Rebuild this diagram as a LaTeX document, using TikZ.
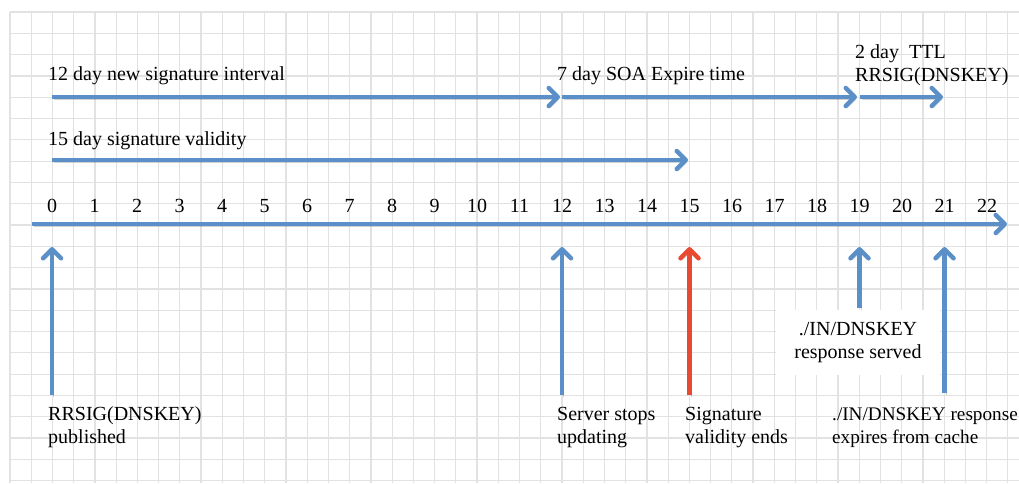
\documentclass[tikz,border=0pt]{standalone}
\usepackage{fontspec}
\setmainfont{Liberation Serif}
\usetikzlibrary{arrows.meta,calc}
\definecolor{ablue}{RGB}{91,143,199}
\definecolor{ared}{RGB}{232,73,48}
\definecolor{gridc}{RGB}{226,226,226}
\tikzset{
  txt/.style={font=\fontsize{20}{23}\selectfont, inner sep=0pt, align=left},
  num/.style={font=\fontsize{20}{23}\selectfont, inner sep=0pt, anchor=base},
  shadowed/.style={preaction={draw=black, opacity=0.18, transform canvas={shift={(1.5pt,-2pt)}}}},
  arr/.style={draw=ablue, line width=4.5pt, line join=round,
    -{Straight Barb[length=9pt,width=18pt,line cap=round,line join=round]}, shadowed},
  redarr/.style={arr, draw=ared},
  gridline/.style={draw=gridc, line width=1.2pt},
}
\begin{document}
\begin{tikzpicture}[x=1pt,y=-1pt]
  \fill[white] (0,0) rectangle (1019,483);
  \useasboundingbox (0,0) rectangle (1019,483);
  % grid
  \foreach \k in {0,...,47} {\draw[gridline] ({10+21.23*\k},12) -- ({10+21.23*\k},483);}
  \foreach \k in {0,...,22} {\draw[gridline] (10,{12+21.3*\k}) -- (1019,{12+21.3*\k});}

  % axis
  \coordinate (axL) at (32,224);
  \coordinate (axR) at (1007,224);
  \draw[arr] (axL) -- (axR);
  \foreach \i in {0,...,22} {\node[num] (n\i) at ({52+42.5*\i},212) {\i};}

  % top labels and arrows (base anchor = baseline of last line)
  \node[txt, anchor=base west] (l12) at (48,80) {12 day new signature interval};
  \node[txt, anchor=base west] (l7) at (557,80) {7 day SOA Expire time};
  \node[txt, anchor=base west] (l2) at (855,81) {2 day\ \ TTL\\RRSIG(DNSKEY)};
  \node[txt, anchor=base west] (l15) at (48,145) {15 day signature validity};

  \coordinate (a1s) at (52,97);  \coordinate (a1e) at (560,97);
  \coordinate (a2s) at (562,97); \coordinate (a2e) at (857,97);
  \coordinate (a3s) at (860,97); \coordinate (a3e) at (943,97);
  \coordinate (a4s) at (52,160); \coordinate (a4e) at (688,160);
  \draw[arr] (a1s) -- (a1e);
  \draw[arr] (a2s) -- (a2e);
  \draw[arr] (a3s) -- (a3e);
  \draw[arr] (a4s) -- (a4e);

  % bottom labels
  \node[txt, anchor=base west] (b0) at (48,443) {RRSIG(DNSKEY)\\published};
  \node[txt, anchor=base west] (b12) at (557,443) {Server stops\\updating};
  \node[txt, anchor=base west] (b15) at (685,443) {Signature\\validity ends};
  \node[txt, anchor=base west, font=\fontsize{19.2}{23}\selectfont] (b21) at (832,443) {./IN/DNSKEY response\\expires from cache};
  \node[txt, align=center, fill=white, minimum width=164pt, minimum height=65pt] (srv) at (858,342) {./IN/DNSKEY\\response served};

  % up arrows
  \coordinate (u0s) at (52,395);   \coordinate (u0e) at (52,247);
  \coordinate (u12s) at (562,395); \coordinate (u12e) at (562,247);
  \coordinate (u15s) at (689.5,395); \coordinate (u15e) at (689.5,247);
  \coordinate (u19s) at (859.5,308); \coordinate (u19e) at (859.5,247);
  \coordinate (u21s) at (944.5,393); \coordinate (u21e) at (944.5,247);
  \draw[arr] (u0s) -- (u0e);
  \draw[arr] (u12s) -- (u12e);
  \draw[redarr] (u15s) -- (u15e);
  \draw[arr] (u19s) -- (u19e);
  \draw[arr] (u21s) -- (u21e);
\end{tikzpicture}
\end{document}
